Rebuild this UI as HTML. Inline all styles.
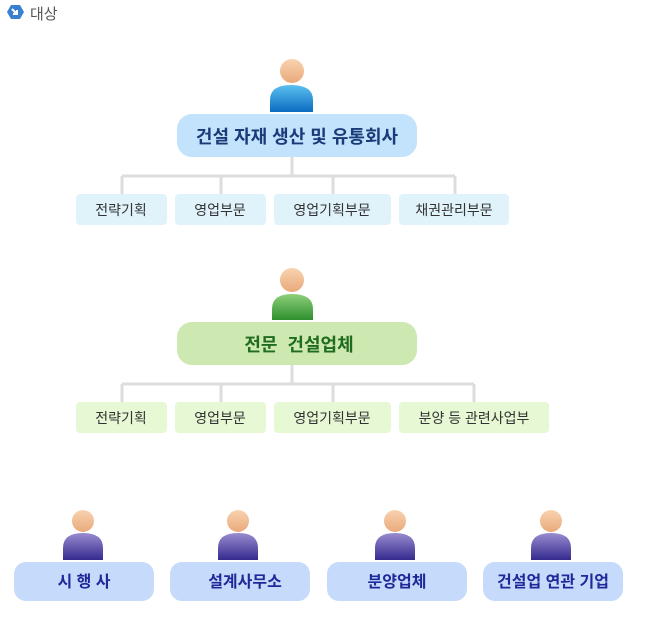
<!DOCTYPE html>
<html><head><meta charset="utf-8"><style>
html,body{margin:0;padding:0;background:#fff;width:669px;height:643px;overflow:hidden}
text{font-family:"Liberation Sans","Noto Sans CJK KR",sans-serif}
</style></head><body>
<svg width="669" height="643" xmlns="http://www.w3.org/2000/svg">
<defs>
<linearGradient id="hd" x1="0" y1="0" x2="0" y2="1"><stop offset="0" stop-color="#f9d3b0"/><stop offset="1" stop-color="#e9a97a"/></linearGradient>
<linearGradient id="bb" x1="0" y1="0" x2="0" y2="1"><stop offset="0" stop-color="#5cc0f0"/><stop offset="1" stop-color="#0a6cc0"/></linearGradient>
<linearGradient id="bg" x1="0" y1="0" x2="0" y2="1"><stop offset="0" stop-color="#8fd07a"/><stop offset="1" stop-color="#2e8f2e"/></linearGradient>
<linearGradient id="bp" x1="0" y1="0" x2="0" y2="1"><stop offset="0" stop-color="#9a8cd0"/><stop offset="1" stop-color="#342a8e"/></linearGradient>
</defs>
<!-- header -->
<path d="M11 5 h9 l4 7 l-4 7 h-9 l-4 -7z" fill="#3a7fd0"/>
<path d="M12 9 l5 5 M17 10 v4 h-4" stroke="#fff" stroke-width="2" fill="none"/>
<text x="30" y="19" font-size="15" fill="#555">대상</text>

<!-- section 1 -->
<circle cx="292" cy="71" r="12" fill="url(#hd)"/>
<path d="M270 112 v-12 q0 -15 21 -15 q22 0 22 15 v12z" fill="url(#bb)"/>
<rect x="177" y="114" width="240" height="43" rx="15" fill="#c2e3fb"/>
<text x="297" y="143" font-size="18" font-weight="bold" fill="#1a3a7a" text-anchor="middle">건설 자재 생산 및 유통회사</text>
<g stroke="#ddd" stroke-width="3" fill="none">
<path d="M292 157 v19 M122 176 h333 M122 176 v18 M221 176 v18 M333 176 v18 M455 176 v18"/>
</g>
<g fill="#e0f3fb">
<rect x="76" y="194" width="91" height="31" rx="4"/><rect x="175" y="194" width="91" height="31" rx="4"/>
<rect x="274" y="194" width="117" height="31" rx="4"/><rect x="399" y="194" width="110" height="31" rx="4"/>
</g>
<g font-size="14" fill="#333" text-anchor="middle">
<text x="121" y="215">전략기획</text><text x="220" y="215">영업부문</text>
<text x="332" y="215">영업기획부문</text><text x="454" y="215">채권관리부문</text>
</g>

<!-- section 2 -->
<circle cx="292" cy="280" r="12" fill="url(#hd)"/>
<path d="M272 320 v-11 q0 -15 20 -15 q21 0 21 15 v11z" fill="url(#bg)"/>
<rect x="177" y="322" width="240" height="43" rx="15" fill="#cde8b0"/>
<text x="299" y="351" font-size="18" font-weight="bold" fill="#1f6b1f" text-anchor="middle" xml:space="preserve">전문  건설업체</text>
<g stroke="#ddd" stroke-width="3" fill="none">
<path d="M292 365 v19 M122 384 h352 M122 384 v18 M221 384 v18 M333 384 v18 M474 384 v18"/>
</g>
<g fill="#e6f8d4">
<rect x="76" y="402" width="91" height="31" rx="4"/><rect x="175" y="402" width="91" height="31" rx="4"/>
<rect x="274" y="402" width="117" height="31" rx="4"/><rect x="399" y="402" width="150" height="31" rx="4"/>
</g>
<g font-size="14" fill="#333" text-anchor="middle">
<text x="121" y="423">전략기획</text><text x="220" y="423">영업부문</text>
<text x="332" y="423">영업기획부문</text><text x="474" y="423">분양 등 관련사업부</text>
</g>

<!-- bottom -->
<g>
<circle cx="83" cy="521" r="11" fill="url(#hd)"/><path d="M63 560 v-12 q0 -15 20 -15 q20 0 20 15 v12z" fill="url(#bp)"/>
<circle cx="238" cy="521" r="11" fill="url(#hd)"/><path d="M218 560 v-12 q0 -15 20 -15 q20 0 20 15 v12z" fill="url(#bp)"/>
<circle cx="395" cy="521" r="11" fill="url(#hd)"/><path d="M375 560 v-12 q0 -15 20 -15 q20 0 20 15 v12z" fill="url(#bp)"/>
<circle cx="551" cy="521" r="11" fill="url(#hd)"/><path d="M531 560 v-12 q0 -15 20 -15 q20 0 20 15 v12z" fill="url(#bp)"/>
</g>
<g fill="#c6dbfb">
<rect x="14" y="562" width="140" height="39" rx="12"/><rect x="170" y="562" width="140" height="39" rx="12"/>
<rect x="327" y="562" width="140" height="39" rx="12"/><rect x="483" y="562" width="140" height="39" rx="12"/>
</g>
<g font-size="16" font-weight="bold" fill="#1e2a9a" text-anchor="middle">
<text x="84" y="587">시 행 사</text><text x="245" y="587">설계사무소</text>
<text x="397" y="587">분양업체</text><text x="553" y="587">건설업 연관 기업</text>
</g>
</svg>
</body></html>
